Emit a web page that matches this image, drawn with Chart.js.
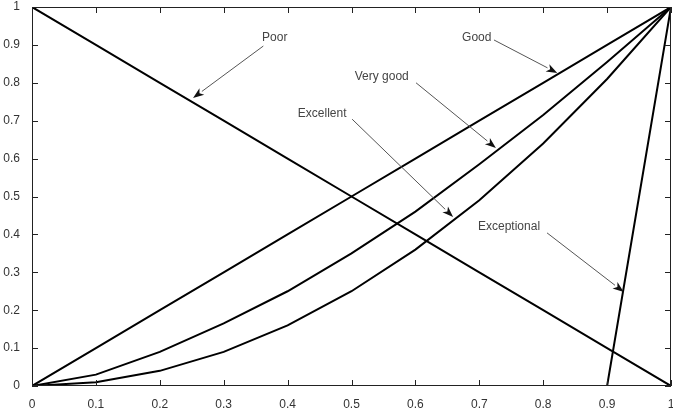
<!DOCTYPE html>
<html>
<head>
<meta charset="utf-8">
<script src="https://cdn.jsdelivr.net/npm/chart.js@4/dist/chart.umd.min.js"></script>
<style>
  html, body { margin: 0; padding: 0; background: #fff; }
  #wrap { width: 673px; height: 410px; }
</style>
</head>
<body>
<div id="wrap"><canvas id="chart" width="673" height="410"></canvas></div>
<script>
// quality grade curves
const xValues = [0, 0.1, 0.2, 0.3, 0.4, 0.5, 0.6, 0.7, 0.8, 0.9, 1];
const poor = [1, 0.9, 0.8, 0.7, 0.6, 0.5, 0.4, 0.3, 0.2, 0.1, 0];
const good = [0, 0.1, 0.2, 0.3, 0.4, 0.5, 0.6, 0.7, 0.8, 0.9, 1];
const veryGood = [0, 0.03, 0.09, 0.165, 0.25, 0.35, 0.46, 0.585, 0.715, 0.855, 1];
const excellent = [0, 0.01, 0.04, 0.09, 0.16, 0.25, 0.36, 0.49, 0.64, 0.81, 1];
const exceptional = [0, 0, 0, 0, 0, 0, 0, 0, 0, 0, 1];

const xTicks = [0, 0.1, 0.2, 0.3, 0.4, 0.5, 0.6, 0.7, 0.8, 0.9, 1];
const yTicks = [0, 0.1, 0.2, 0.3, 0.4, 0.5, 0.6, 0.7, 0.8, 0.9, 1];

// annotations: text, text anchor (left, middle), arrow start, arrow tip
const noteLabels = ['Poor', 'Good', 'Very good', 'Excellent', 'Exceptional'];
const noteText = [[0.360, 0.918], [0.673, 0.918], [0.505, 0.815], [0.416, 0.718], [0.698, 0.420]];
const noteFrom = [[0.362, 0.897], [0.723, 0.913], [0.601, 0.800], [0.501, 0.704], [0.806, 0.404]];
const noteTip = [[0.252, 0.760], [0.822, 0.826], [0.726, 0.628], [0.659, 0.446], [0.926, 0.248]];

const FONT = '"Liberation Sans", Arial, sans-serif';

function toPoints(ys) {
  return xValues.map((x, i) => ({ x, y: ys[i] }));
}

function series(label, ys) {
  return {
    label,
    data: toPoints(ys),
    borderColor: '#000',
    borderWidth: 2,
    pointRadius: 0,
    tension: 0,
    fill: false
  };
}

// MATLAB style box with inward ticks on all four sides
const boxPlugin = {
  id: 'box',
  afterDatasetsDraw(chart) {
    const { ctx, chartArea: a, scales } = chart;
    ctx.save();
    ctx.strokeStyle = '#222';
    ctx.lineWidth = 1;
    ctx.strokeRect(a.left + 0.5, a.top + 0.5, a.right - a.left - 1, a.bottom - a.top - 1);
    const len = 6;
    ctx.beginPath();
    xTicks.forEach(v => {
      const px = Math.round(scales.x.getPixelForValue(v)) + 0.5;
      ctx.moveTo(px, a.bottom); ctx.lineTo(px, a.bottom - len);
      ctx.moveTo(px, a.top); ctx.lineTo(px, a.top + len);
    });
    yTicks.forEach(v => {
      const py = Math.round(scales.y.getPixelForValue(v)) + 0.5;
      ctx.moveTo(a.left, py); ctx.lineTo(a.left + len, py);
      ctx.moveTo(a.right, py); ctx.lineTo(a.right - len, py);
    });
    ctx.stroke();
    ctx.restore();
  }
};

// text labels with arrows
const notePlugin = {
  id: 'notes',
  afterDatasetsDraw(chart) {
    const { ctx, scales } = chart;
    const px = p => [scales.x.getPixelForValue(p[0]), scales.y.getPixelForValue(p[1])];
    ctx.save();
    ctx.font = '12px ' + FONT;
    ctx.textAlign = 'left';
    ctx.textBaseline = 'middle';
    noteLabels.forEach((txt, i) => {
      const [tx, ty] = px(noteText[i]);
      ctx.fillStyle = '#444';
      ctx.fillText(txt, tx, ty);
      const [x0, y0] = px(noteFrom[i]);
      const [x1, y1] = px(noteTip[i]);
      const ang = Math.atan2(y1 - y0, x1 - x0);
      const hl = 11, hw = 4;
      const bx = x1 - hl * Math.cos(ang), by = y1 - hl * Math.sin(ang);
      ctx.strokeStyle = '#555';
      ctx.lineWidth = 1;
      ctx.beginPath();
      ctx.moveTo(x0, y0);
      ctx.lineTo(bx, by);
      ctx.stroke();
      ctx.fillStyle = '#111';
      ctx.beginPath();
      ctx.moveTo(x1, y1);
      ctx.lineTo(bx + hw * Math.sin(ang), by - hw * Math.cos(ang));
      ctx.lineTo(bx + 3 * Math.cos(ang), by + 3 * Math.sin(ang));
      ctx.lineTo(bx - hw * Math.sin(ang), by + hw * Math.cos(ang));
      ctx.closePath();
      ctx.fill();
    });
    ctx.restore();
  }
};

new Chart(document.getElementById('chart'), {
  type: 'line',
  data: {
    datasets: [
      series('Poor', poor),
      series('Good', good),
      series('Very good', veryGood),
      series('Excellent', excellent),
      series('Exceptional', exceptional)
    ]
  },
  options: {
    responsive: false,
    animation: false,
    layout: { padding: { top: 7, right: 2, left: 0, bottom: 0 } },
    plugins: { legend: { display: false }, tooltip: { enabled: false } },
    scales: {
      x: {
        type: 'linear',
        min: 0,
        max: 1,
        afterBuildTicks: s => { s.ticks = xTicks.map(v => ({ value: v })); },
        afterFit: s => { s.height = 24; s.paddingLeft = 0; s.paddingRight = 0; },
        grid: { display: false },
        border: { display: false },
        ticks: {
          color: '#333',
          font: { family: FONT, size: 12 },
          padding: 3,
          maxRotation: 0,
          autoSkip: false,
          callback: v => String(v)
        }
      },
      y: {
        type: 'linear',
        min: 0,
        max: 1,
        afterBuildTicks: s => { s.ticks = yTicks.map(v => ({ value: v })); },
        afterFit: s => { s.width = 32; s.paddingTop = 0; s.paddingBottom = 0; },
        grid: { display: false },
        border: { display: false },
        ticks: {
          color: '#333',
          font: { family: FONT, size: 12 },
          padding: 4,
          autoSkip: false,
          callback: v => String(v)
        }
      }
    }
  },
  plugins: [boxPlugin, notePlugin]
});
</script>
</body>
</html>
